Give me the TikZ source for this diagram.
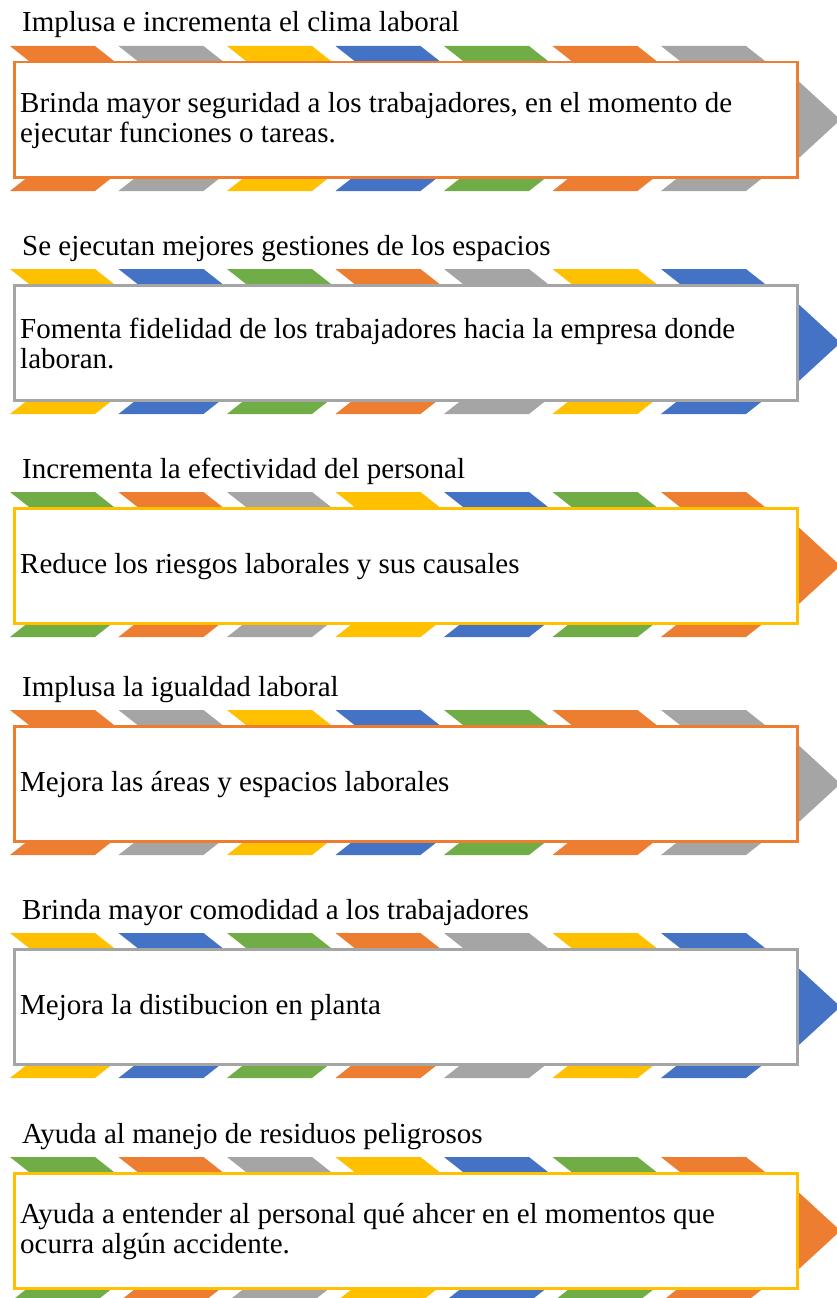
\documentclass[tikz,border=0pt]{standalone}
\usepackage{fontspec}
\setmainfont{Liberation Serif}
\usepackage{xcolor}
\usepackage{tikz}
\definecolor{accOrange}{HTML}{ED7D31}
\definecolor{accGray}{HTML}{A5A5A5}
\definecolor{accYellow}{HTML}{FFC000}
\definecolor{accBlue}{HTML}{4472C4}
\definecolor{accGreen}{HTML}{70AD47}
\usetikzlibrary{calc,backgrounds}
\newcommand{\bodyfont}{\fontsize{29}{30}\selectfont}
% two bands of slanted stripes, #1 = top of the upper band, #2 = colours
\newcommand{\stripes}[2]{%
  \foreach \col [count=\i from 0] in {#2} {
    \fill[\col] ({10+108.5*\i},{#1}) -- ++(85,0) -- ++(19,15) -- ++(-85,0) -- cycle;
    \fill[\col] ({29+108.5*\i},{#1+130}) -- ++(85,0) -- ++(-19,15) -- ++(-85,0) -- cycle;
  }}

\begin{document}
\begin{tikzpicture}[
    x=1pt, y=-1pt,
    panel/.style={rectangle, draw, fill=white, line width=2.5pt, anchor=north west,
      minimum width=783pt, minimum height=115pt},
    bodytext/.style={anchor=west, inner sep=0pt, align=left, font=\bodyfont},
    heading/.style={anchor=base west, inner sep=0pt, font=\bodyfont}
]
    \useasboundingbox (0,0) rectangle (836,1298);

    % Panel 1
    \node[heading] (head1) at (22,32) {Implusa e incrementa el clima laboral};
    \stripes{46}{accOrange,accGray,accYellow,accBlue,accGreen,accOrange,accGray}
    \node[panel, draw=accOrange] (box1) at (13,61) {};
    \node[bodytext] (txt1) at ([xshift=7pt,yshift=-1pt]box1.west) {Brinda mayor seguridad a los trabajadores, en el momento de\\ejecutar funciones o tareas.};
    \begin{scope}[on background layer]
      \fill[accGray] ($(box1.east)+(-20,-57)$) -- ($(box1.east)+(42,0)$) -- ($(box1.east)+(-20,57)$) -- cycle;
    \end{scope}

    % Panel 2
    \node[heading] (head2) at (22,255) {Se ejecutan mejores gestiones de los espacios};
    \stripes{269}{accYellow,accBlue,accGreen,accOrange,accGray,accYellow,accBlue}
    \node[panel, draw=accGray] (box2) at (13,284) {};
    \node[bodytext] (txt2) at ([xshift=7pt,yshift=-1pt]box2.west) {Fomenta fidelidad de los trabajadores hacia la empresa donde\\laboran.};
    \begin{scope}[on background layer]
      \fill[accBlue] ($(box2.east)+(-20,-57)$) -- ($(box2.east)+(42,0)$) -- ($(box2.east)+(-20,57)$) -- cycle;
    \end{scope}

    % Panel 3
    \node[heading] (head3) at (22,478) {Incrementa la efectividad del personal};
    \stripes{492}{accGreen,accOrange,accGray,accYellow,accBlue,accGreen,accOrange}
    \node[panel, draw=accYellow] (box3) at (13,507) {};
    \node[bodytext] (txt3) at ([xshift=7pt,yshift=-1pt]box3.west) {Reduce los riesgos laborales y sus causales};
    \begin{scope}[on background layer]
      \fill[accOrange] ($(box3.east)+(-20,-57)$) -- ($(box3.east)+(42,0)$) -- ($(box3.east)+(-20,57)$) -- cycle;
    \end{scope}

    % Panel 4
    \node[heading] (head4) at (22,696) {Implusa la igualdad laboral};
    \stripes{710}{accOrange,accGray,accYellow,accBlue,accGreen,accOrange,accGray}
    \node[panel, draw=accOrange] (box4) at (13,725) {};
    \node[bodytext] (txt4) at ([xshift=7pt,yshift=-1pt]box4.west) {Mejora las áreas y espacios laborales};
    \begin{scope}[on background layer]
      \fill[accGray] ($(box4.east)+(-20,-57)$) -- ($(box4.east)+(42,0)$) -- ($(box4.east)+(-20,57)$) -- cycle;
    \end{scope}

    % Panel 5
    \node[heading] (head5) at (22,919) {Brinda mayor comodidad a los trabajadores};
    \stripes{933}{accYellow,accBlue,accGreen,accOrange,accGray,accYellow,accBlue}
    \node[panel, draw=accGray] (box5) at (13,948) {};
    \node[bodytext] (txt5) at ([xshift=7pt,yshift=-1pt]box5.west) {Mejora la distibucion en planta};
    \begin{scope}[on background layer]
      \fill[accBlue] ($(box5.east)+(-20,-57)$) -- ($(box5.east)+(42,0)$) -- ($(box5.east)+(-20,57)$) -- cycle;
    \end{scope}

    % Panel 6
    \node[heading] (head6) at (22,1143) {Ayuda al manejo de residuos peligrosos};
    \stripes{1157}{accGreen,accOrange,accGray,accYellow,accBlue,accGreen,accOrange}
    \node[panel, draw=accYellow] (box6) at (13,1172) {};
    \node[bodytext] (txt6) at ([xshift=7pt,yshift=-1pt]box6.west) {Ayuda a entender al personal qué ahcer en el momentos que\\ocurra algún accidente.};
    \begin{scope}[on background layer]
      \fill[accOrange] ($(box6.east)+(-20,-57)$) -- ($(box6.east)+(42,0)$) -- ($(box6.east)+(-20,57)$) -- cycle;
    \end{scope}
\end{tikzpicture}
\end{document}
